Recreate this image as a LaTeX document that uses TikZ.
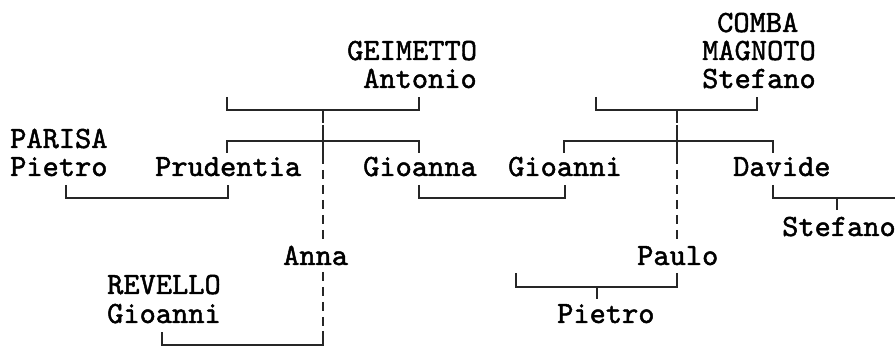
\documentclass[tikz,border=0pt]{standalone}
\usepackage{fontspec}
\setmonofont{lmmono10-regular.otf}[FakeBold=1.5]
\begin{document}
\begin{tikzpicture}[x=1pt,y=-1pt,
  lbl/.style={anchor=base west, inner sep=0pt, font=\ttfamily\fontsize{30.9}{34}\selectfont, text=black},
  tree/.style={line width=1.6pt, draw=black!85},
  dashline/.style={line width=1.6pt, draw=black!85, dash pattern=on 9pt off 6pt}]
\useasboundingbox (0,0) rectangle (895,347);
% people
\node[lbl] (comba) at (717,32) {COMBA};
\node[lbl] (magnoto) at (702,60) {MAGNOTO};
\node[lbl] (stefanoA) at (702,88) {Stefano};
\node[lbl] (geimetto) at (347,60) {GEIMETTO};
\node[lbl] (antonio) at (363,88) {Antonio};
\node[lbl] (parisa) at (10,148) {PARISA};
\node[lbl] (pietroA) at (10,176) {Pietro};
\node[lbl] (prudentia) at (155,176) {Prudentia};
\node[lbl] (gioanna) at (363,176) {Gioanna};
\node[lbl] (gioanniA) at (508,176) {Gioanni};
\node[lbl] (davide) at (733,176) {Davide};
\node[lbl] (stefanoB) at (782,236) {Stefano};
\node[lbl] (anna) at (283,265) {Anna};
\node[lbl] (paulo) at (637,265) {Paulo};
\node[lbl] (revello) at (107,294) {REVELLO};
\node[lbl] (gioanniB) at (107,323) {Gioanni};
\node[lbl] (pietroB) at (557,323) {Pietro};
% junction points
\coordinate (gl) at (227,97);  \coordinate (gr) at (419,97);
\coordinate (gt) at (323,110);
\coordinate (cl) at (596,97);  \coordinate (cr) at (757,97);
\coordinate (ct) at (677,110);
\coordinate (dend) at (895,198);
% GEIMETTO family
\draw[tree] (gl) |- (419,110) -- (gr);
\draw[tree] (227,153) |- (419,141) -- (419,153);
\draw[dashline] (gt) -- (323,240);
\draw[tree] (gt) -- (323,123);
\draw[tree] (323,128) -- (323,155);
\draw[dashline] (323,272) -- (323,333);
\draw[tree] (323,331) |- (162,345) -- (162,332);
% COMBA MAGNOTO family
\draw[tree] (cl) |- (757,110) -- (cr);
\draw[tree] (564,153) |- (773,141) -- (773,153);
\draw[dashline] (ct) -- (677,240);
\draw[tree] (ct) -- (677,123);
\draw[tree] (677,128) -- (677,155);
% marriages
\draw[tree] (66,185) |- (228,198) -- (228,185);
\draw[tree] (419,185) |- (565,198) -- (565,185);
\draw[tree] (677,273) |- (516,287) -- (516,273);
\draw[tree] (597,287) -- (597,299);
\draw[tree] (773,185) |- (dend);
\draw[tree] (837,198) -- (837,210);
\end{tikzpicture}
\end{document}
